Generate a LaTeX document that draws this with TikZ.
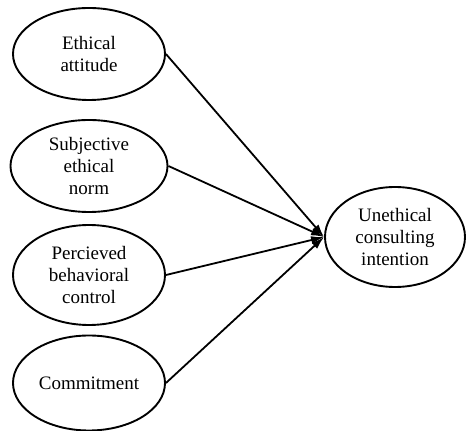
\documentclass[tikz,border=0pt]{standalone}
\usepackage{fontspec}
\setmainfont{Liberation Serif}
\usetikzlibrary{arrows.meta,positioning,shapes.geometric}

\begin{document}
\begin{tikzpicture}[>={Latex[length=13pt,width=8pt]},
  font=\fontsize{19pt}{22pt}\selectfont,
  var/.style={draw, ellipse, line width=1.9pt, inner sep=0pt, align=center,
    minimum width=152pt, minimum height=92pt},
  res/.style={var, minimum width=140pt, minimum height=100pt}]
\useasboundingbox (0,0) rectangle (466pt,431pt);
\node[var] (ea) at (89pt,377pt) {Ethical\\ attitude};
\node[var, on grid, below=112pt of ea, minimum width=157pt] (sn) {Subjective\\ ethical\\ norm};
\node[var, on grid, below=109pt of sn, minimum height=100pt] (pb) {Percieved\\ behavioral\\ control};
\node[var, on grid, below=108pt of pb, minimum height=95pt] (cm) {Commitment};
\node[res] (uc) at (395pt,194pt) {Unethical\\ consulting\\ intention};
\draw[->, line width=1.8pt] (ea.east) -- (uc.west);
\draw[->, line width=1.8pt] (sn.east) -- (uc.west);
\draw[->, line width=1.8pt] (pb.east) -- (uc.west);
\draw[->, line width=1.8pt] (cm.east) -- (uc.west);
\end{tikzpicture}
\end{document}
